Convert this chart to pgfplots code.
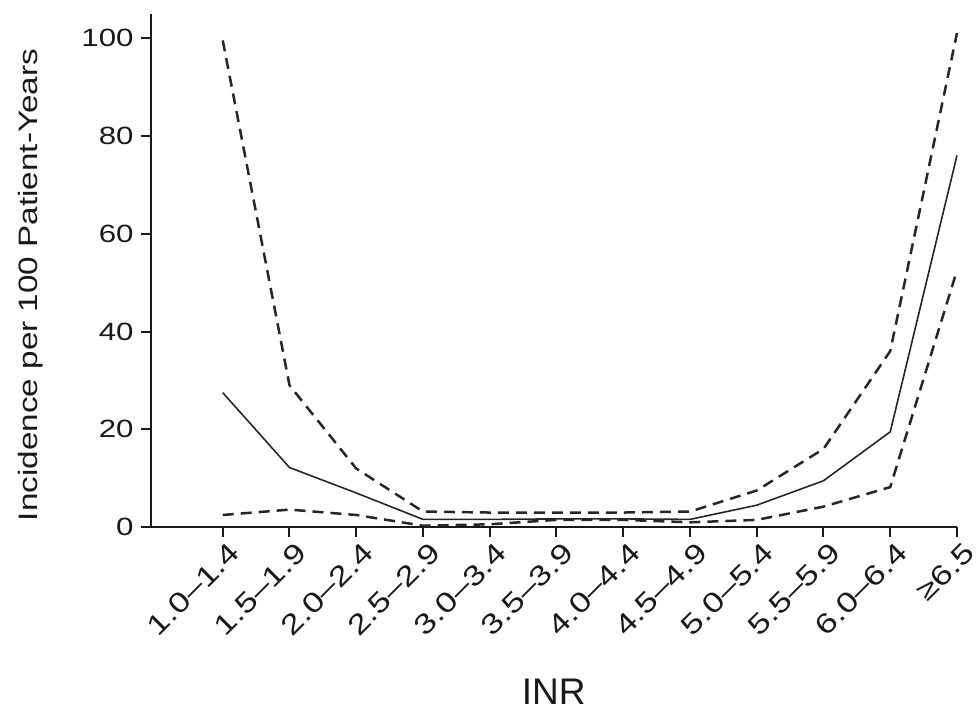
\documentclass[border=0pt]{standalone}
\usepackage{fontspec}
\setmainfont{Liberation Sans}
\newfontfamily\wide{Liberation Sans}[FakeStretch=1.25]
\usepackage{pgfplots}
\pgfplotsset{compat=1.18}

\begin{document}
\begin{tikzpicture}
\begin{axis}[
  scale only axis,
  width=403pt, height=256.5pt,
  xmin=-1.08, xmax=11, ymin=0, ymax=104.9,
  axis lines=left, axis line style={-, line width=1pt, black!90},
  tick align=outside, tick style={line width=1pt, black!90},
  major tick length=5pt,
  xtick={0,...,11},
  xticklabels={1.0–1.4,1.5–1.9,2.0–2.4,2.5–2.9,3.0–3.4,3.5–3.9,4.0–4.4,4.5–4.9,5.0–5.4,5.5–5.9,6.0–6.4,≥6.5},
  xticklabel style={rotate=45, anchor=east, xshift=4pt, yshift=-8pt,
    font=\wide\fontsize{14}{16}\selectfont, black!90},
  ytick={0,20,...,100},
  yticklabel style={font=\wide\fontsize{12.5}{14}\selectfont, black!90},
  /pgf/number format/assume math mode=true,
  xlabel={INR},
  every axis x label/.style={at={(axis description cs:0.5,0)}, yshift=-82pt,
    anchor=center, font=\fontsize{18.5}{21}\selectfont, black!90},
  ylabel={Incidence per 100 Patient-Years},
  every axis y label/.style={at={(axis description cs:0,0.472)}, xshift=-60pt,
    rotate=90, anchor=center, font=\wide\fontsize{13.3}{15}\selectfont, black!90},
  clip=false,
]
% point estimate
\addplot[black!85, line width=0.8pt, mark=none] coordinates {
  (0,27.5) (1,12.2) (2,7.0) (3,1.6) (4,1.6) (5,1.7) (6,1.7) (7,1.6)
  (8,4.5) (9,9.5) (10,19.5) (11,76)};
% upper confidence limit
\addplot[black!85, line width=1.25pt, dash pattern=on 5.5pt off 3.5pt, mark=none] coordinates {
  (0,99.5) (1,29) (2,12) (3,3.2) (4,3.0) (5,3.0) (6,3.0) (7,3.2)
  (8,7.5) (9,16) (10,36) (11,101)};
% lower confidence limit
\addplot[black!85, line width=1.25pt, dash pattern=on 5.5pt off 3.5pt, mark=none] coordinates {
  (0,2.5) (1,3.6) (2,2.5) (3,0.3) (4,0.6) (5,1.5) (6,1.5) (7,1.0)
  (8,1.5) (9,4.2) (10,8.2) (11,52.5)};
\end{axis}
\pgfresetboundingbox
\path ([xshift=-75.3pt, yshift=-93pt]current axis.south west)
  rectangle ([xshift=10pt, yshift=7pt]current axis.north east);
\end{tikzpicture}
\end{document}
